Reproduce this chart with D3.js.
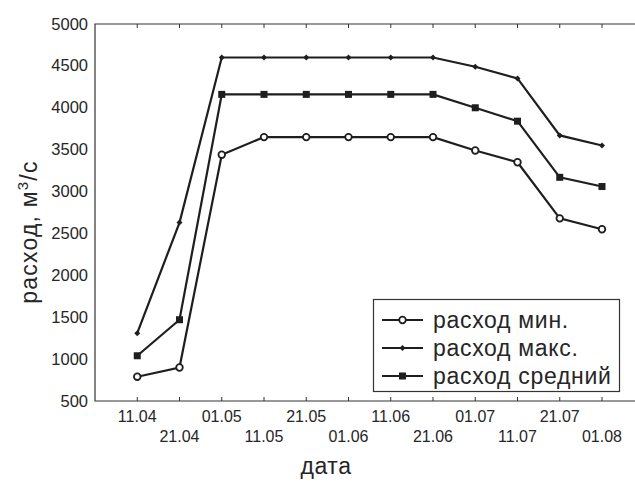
<!DOCTYPE html>
<html>
<head>
<meta charset="utf-8">
<script src="https://cdn.jsdelivr.net/npm/d3@7"></script>
<style>
  body { margin: 0; background: #fff; }
  svg text { font-family: "Liberation Sans", Arial, sans-serif; fill: #262626; }
</style>
</head>
<body>
<svg id="chart" width="635" height="490"></svg>
<script>
// dates (01.04 is the unlabeled first tick at the left axis)
var dates = ["01.04", "11.04", "21.04", "01.05", "11.05", "21.05", "01.06", "11.06", "21.06", "01.07", "11.07", "21.07", "01.08"];
var yTicks = [500, 1000, 1500, 2000, 2500, 3000, 3500, 4000, 4500, 5000];

// series start at 11.04
var flowMin = [790, 900, 3440, 3650, 3650, 3650, 3650, 3650, 3490, 3350, 2680, 2550];
var flowMax = [1310, 2630, 4600, 4600, 4600, 4600, 4600, 4600, 4490, 4350, 3670, 3550];
var flowAvg = [1040, 1470, 4160, 4160, 4160, 4160, 4160, 4160, 4000, 3840, 3170, 3060];

var seriesNames = ["расход мин.", "расход макс.", "расход средний"];
var series = [
	{name: seriesNames[0], values: flowMin, marker: "circle"},
	{name: seriesNames[1], values: flowMax, marker: "diamond"},
	{name: seriesNames[2], values: flowAvg, marker: "square"}
];

var svg = d3.select("#chart");
var margin = {left: 95, top: 24, bottom: 401};
var lineColor = "#1e1e1e";

// index scale, frame runs past the picture edge
var x = d3.scaleLinear().domain([0, 13]).range([margin.left, margin.left + 13 * 42.25]);
var y = d3.scaleLinear().domain([500, 5000]).range([margin.bottom, margin.top]);

// frame
var frame = svg.append("g").attr("class", "frame");
frame.append("path")
	.attr("d", "M" + x(13) + "," + y(5000) + "H" + x(0) + "V" + y(500) + "H" + x(13))
	.attr("fill", "none")
	.attr("stroke", "#333")
	.attr("stroke-width", 1.2);

// inward ticks on top and bottom
var tickIdx = d3.range(1, 13);
frame.selectAll("line.tb")
	.data(tickIdx)
	.enter().append("line")
	.attr("x1", d => x(d)).attr("x2", d => x(d))
	.attr("y1", y(500)).attr("y2", y(500) - 4)
	.attr("stroke", "#333");
frame.selectAll("line.tt")
	.data(tickIdx)
	.enter().append("line")
	.attr("x1", d => x(d)).attr("x2", d => x(d))
	.attr("y1", y(5000)).attr("y2", y(5000) + 4)
	.attr("stroke", "#333");

// x labels, staggered in two rows
svg.append("g").selectAll("text")
	.data(tickIdx)
	.enter().append("text")
	.attr("x", d => x(d))
	.attr("y", d => d % 2 === 1 ? 422 : 442)
	.attr("text-anchor", "middle")
	.attr("font-size", 16)
	.text(d => dates[d]);

// y labels
svg.append("g").selectAll("text")
	.data(yTicks)
	.enter().append("text")
	.attr("x", 88)
	.attr("y", d => y(d) + 5.5)
	.attr("text-anchor", "end")
	.attr("font-size", 16.5)
	.text(d => d);

// axis titles
svg.append("text")
	.attr("x", 326).attr("y", 474)
	.attr("text-anchor", "middle")
	.attr("font-size", 23)
	.attr("letter-spacing", 0.6)
	.text("дата");

var yt = svg.append("text")
	.attr("transform", "translate(37,232) rotate(-90)")
	.attr("text-anchor", "middle")
	.attr("font-size", 23)
	.attr("letter-spacing", 1.2);
yt.append("tspan").text("расход, м");
yt.append("tspan").attr("font-size", 15).attr("dy", -9).text("3");
yt.append("tspan").attr("dy", 9).text("/с");

function drawMarker(g, type, cx, cy) {
	if (type === "circle") {
		g.append("circle").attr("cx", cx).attr("cy", cy).attr("r", 3.3)
			.attr("fill", "#fff").attr("stroke", lineColor).attr("stroke-width", 1.8);
	} else if (type === "diamond") {
		var s = 3;
		g.append("path")
			.attr("d", "M" + cx + "," + (cy - s) + "L" + (cx + s) + "," + cy + "L" + cx + "," + (cy + s) + "L" + (cx - s) + "," + cy + "Z")
			.attr("fill", lineColor);
	} else {
		g.append("rect").attr("x", cx - 3.5).attr("y", cy - 3.5).attr("width", 7).attr("height", 7)
			.attr("fill", lineColor);
	}
}

var line = d3.line()
	.x((d, i) => x(i + 1))
	.y(d => y(d));

series.forEach(function (s) {
	var g = svg.append("g");
	g.append("path")
		.attr("d", line(s.values))
		.attr("fill", "none")
		.attr("stroke", lineColor)
		.attr("stroke-width", 2.2);
	s.values.forEach(function (v, i) {
		drawMarker(g, s.marker, x(i + 1), y(v));
	});
});

// legend
var legend = svg.append("g");
legend.append("rect")
	.attr("x", 373.5).attr("y", 299.5).attr("width", 246).attr("height", 92)
	.attr("fill", "#fff").attr("stroke", "#333").attr("stroke-width", 1.2);
series.forEach(function (s, i) {
	var cy = 320 + i * 28;
	legend.append("line")
		.attr("x1", 382).attr("x2", 423).attr("y1", cy).attr("y2", cy)
		.attr("stroke", lineColor).attr("stroke-width", 2.2);
	drawMarker(legend, s.marker, 402.5, cy);
	legend.append("text")
		.attr("x", 433).attr("y", cy + 7.5)
		.attr("font-size", 23)
		.attr("letter-spacing", 0.7)
		.text(s.name);
});
</script>
</body>
</html>
